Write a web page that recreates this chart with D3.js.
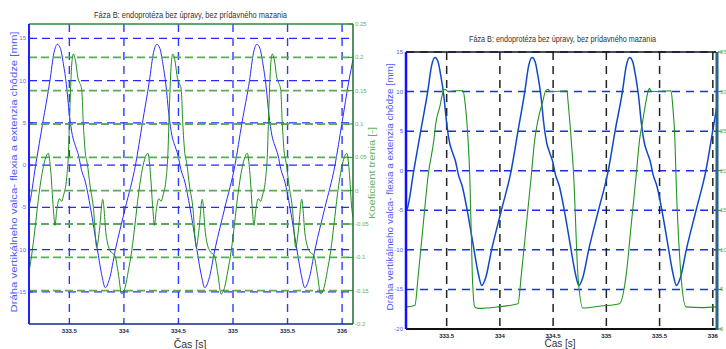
<!DOCTYPE html>
<html>
<head>
<meta charset="utf-8">
<script src="https://cdn.jsdelivr.net/npm/d3@7"></script>
<style>
body { margin: 0; background: #fff; }
svg text { font-family: "Liberation Sans", Arial, sans-serif; }
</style>
</head>
<body>
<svg id="chart" width="726" height="349"></svg>
<script>
// ---- data ----
var titleText = "Fáza B: endoprotéza bez úpravy, bez prídavného mazania";
var xLabelText = "Čas [s]";
var yLabelLeft = "Dráha vertikálneho valca- flexia a extenzia chôdze [mm]";
var yLabelRight = "Koeficient trenia [-]";

var xTicks = [333.5, 334, 334.5, 335, 335.5, 336];
var xTickLabels = ["333.5", "334", "334.5", "335", "335.5", "336"];

var leftTicksA = [15, 10, 5, 0, -5, -10, -15];
var rightTicksA = [0.25, 0.2, 0.15, 0.1, 0.05, 0, -0.05, -0.1, -0.15, -0.2];
var rightTickLabelsA = ["0.25", "0.2", "0.15", "0.1", "0.05", "0", "-0.05", "-0.1", "-0.15", "-0.2"];

var leftTicksB = [15, 10, 5, 0, -5, -10, -15, -20];
var rightTicksB = [35, 30, 25, 20, 15, 10, 5, 0];

// displacement of the cylinder [mm] (blue, both charts)
var tBlue = [333.11, 333.13, 333.191, 333.256, 333.322, 333.359, 333.390, 333.418, 333.445, 333.473, 333.500, 333.528, 333.555, 333.583, 333.610, 333.647, 333.693, 333.757, 333.794, 333.830, 333.867, 333.922, 334.014, 334.106, 334.170,
  334.234, 334.271, 334.302, 334.330, 334.357, 334.385, 334.412, 334.440, 334.467, 334.495, 334.522, 334.559, 334.605, 334.669, 334.706, 334.742, 334.779, 334.834, 334.926, 335.018, 335.082,
  335.151, 335.188, 335.219, 335.247, 335.274, 335.302, 335.329, 335.357, 335.384, 335.412, 335.439, 335.476, 335.522, 335.586, 335.623, 335.659, 335.696, 335.751, 335.843, 335.935, 335.999, 336.063, 336.10];
var blueVal = [-5.3, -4.8, 0, 5, 10, 13.3, 14.3, 13.8, 12.0, 9.5, 6.0, 3.5, 2.3, 1.2, -0.5, -2.0, -5.0, -10.0, -12.8, -14.5, -13.5, -10.0, -5.0, 0, 5,
  10, 13.3, 14.3, 13.8, 12.0, 9.5, 6.0, 3.5, 2.3, 1.2, -0.5, -2.0, -5.0, -10.0, -12.8, -14.5, -13.5, -10.0, -5.0, 0, 5,
  10, 13.3, 14.3, 13.8, 12.0, 9.5, 6.0, 3.5, 2.3, 1.2, -0.5, -2.0, -5.0, -10.0, -12.8, -14.5, -13.5, -10.0, -5.0, 0, 5, 10, 12.5];

// friction coefficient [-] (green, left chart)
var tFric = [333.13, 333.160, 333.190, 333.221, 333.267, 333.307, 333.329, 333.353, 333.368, 333.384, 333.408, 333.430, 333.445, 333.476, 333.490, 333.506, 333.522, 333.536, 333.561, 333.577, 333.591, 333.613, 333.628, 333.644, 333.665, 333.690, 333.720, 333.751, 333.775, 333.806, 333.836, 333.873, 333.919, 333.949, 333.980, 334.011, 334.041, 334.072, 334.102, 334.133, 334.179,
  334.219, 334.241, 334.265, 334.280, 334.296, 334.320, 334.342, 334.357, 334.388, 334.402, 334.418, 334.434, 334.448, 334.473, 334.489, 334.503, 334.525, 334.540, 334.556, 334.577, 334.602, 334.632, 334.663, 334.687, 334.718, 334.748, 334.785, 334.831, 334.861, 334.892, 334.923, 334.953, 334.984, 335.014, 335.045, 335.091,
  335.131, 335.153, 335.177, 335.192, 335.208, 335.232, 335.254, 335.269, 335.300, 335.314, 335.330, 335.346, 335.360, 335.385, 335.401, 335.415, 335.437, 335.452, 335.468, 335.489, 335.514, 335.544, 335.575, 335.599, 335.630, 335.660, 335.697, 335.743, 335.773, 335.804, 335.835, 335.865, 335.896, 335.926, 335.957, 336.003,
  336.043, 336.065, 336.089, 336.10];
var fricVal = [-0.122, -0.09, -0.05, -0.006, 0.04, 0.056, 0.03, -0.027, -0.052, -0.03, -0.012, -0.016, -0.008, 0.02, 0.05, 0.13, 0.19, 0.205, 0.19, 0.17, 0.163, 0.152, 0.1, 0.06, 0.04, 0.007, -0.025, -0.085, -0.06, -0.013, -0.065, -0.09, -0.098, -0.125, -0.155, -0.145, -0.12, -0.09, -0.05, -0.006, 0.04,
  0.056, 0.03, -0.027, -0.052, -0.03, -0.012, -0.016, -0.008, 0.02, 0.05, 0.13, 0.19, 0.205, 0.19, 0.17, 0.163, 0.152, 0.1, 0.06, 0.04, 0.007, -0.025, -0.085, -0.06, -0.013, -0.065, -0.09, -0.098, -0.125, -0.155, -0.145, -0.12, -0.09, -0.05, -0.006, 0.04,
  0.056, 0.03, -0.027, -0.052, -0.03, -0.012, -0.016, -0.008, 0.02, 0.05, 0.13, 0.19, 0.205, 0.19, 0.17, 0.163, 0.152, 0.1, 0.06, 0.04, 0.007, -0.025, -0.085, -0.06, -0.013, -0.065, -0.09, -0.098, -0.125, -0.155, -0.145, -0.12, -0.09, -0.05, -0.006, 0.04,
  0.056, 0.03, -0.027, -0.04];

// second quantity (green, right chart, right axis 0..35)
var tForce = [333.11, 333.123, 333.202, 333.233, 333.279, 333.326, 333.380, 333.398, 333.436, 333.467, 333.483, 333.514, 333.580, 333.654, 333.670, 333.701, 333.717, 333.741, 333.764, 333.795, 333.980, 334.170,
  334.201, 334.248, 334.295, 334.327, 334.358, 334.405, 334.430, 334.452, 334.470, 334.630, 334.639, 334.670, 334.693, 334.733, 334.780, 334.950, 335.124,
  335.186, 335.233, 335.280, 335.312, 335.343, 335.374, 335.396, 335.405, 335.425, 335.608, 335.624, 335.644, 335.654, 335.701, 335.748, 335.900, 336.03];
var forceVal = [2.8, 2.8, 3.0, 6.8, 13.1, 19.4, 23.9, 26.0, 28.1, 30.0, 30.3, 30.0, 30.1, 30.1, 28.9, 23.9, 19.4, 6.8, 2.8, 2.6, 2.8, 3.2,
  6.8, 13.1, 19.4, 23.9, 26.4, 28.9, 30.1, 30.3, 30.0, 30.1, 28.9, 23.9, 19.4, 6.8, 2.65, 2.9, 3.2,
  6.8, 13.1, 19.4, 23.9, 26.4, 28.9, 30.2, 30.4, 30.0, 30.1, 28.1, 23.9, 19.4, 6.8, 2.8, 2.7, 2.8];

// ---- drawing ----
var svg = d3.select("#chart");

var blueCol = "#2a2aff";
var greenCol = "#1f8f1f";
var greenGrid = "#5aab5a";
var greenText = "#5fb35f";

function pairs(t, v) {
  return t.map(function (d, i) { return [d, v[i]]; });
}

function hLines(g, scale, ticks, box, color, dash, w) {
  g.selectAll(null).data(ticks).enter().append("line")
    .attr("x1", box.x0).attr("x2", box.x1)
    .attr("y1", function (d) { return scale(d); })
    .attr("y2", function (d) { return scale(d); })
    .attr("stroke", color).attr("stroke-width", w)
    .attr("stroke-dasharray", dash);
}

function vLines(g, scale, ticks, box, color, dash, w) {
  g.selectAll(null).data(ticks).enter().append("line")
    .attr("y1", box.y0).attr("y2", box.y1)
    .attr("x1", function (d) { return scale(d); })
    .attr("x2", function (d) { return scale(d); })
    .attr("stroke", color).attr("stroke-width", w)
    .attr("stroke-dasharray", dash);
}

function curve(g, x, y, data, color, w, clipId) {
  var line = d3.line()
    .x(function (d) { return x(d[0]); })
    .y(function (d) { return y(d[1]); })
    .curve(d3.curveMonotoneX);
  g.append("path")
    .attr("d", line(data))
    .attr("fill", "none")
    .attr("stroke", color)
    .attr("stroke-width", w)
    .attr("clip-path", "url(#" + clipId + ")");
}

function clip(id, box) {
  svg.append("clipPath").attr("id", id).append("rect")
    .attr("x", box.x0).attr("y", box.y0)
    .attr("width", box.x1 - box.x0).attr("height", box.y1 - box.y0);
}

function rotLabel(x, y, text, color, len, size) {
  svg.append("text")
    .attr("transform", "translate(" + x + "," + y + ") rotate(-90)")
    .attr("text-anchor", "middle")
    .attr("font-size", size)
    .attr("fill", color)
    .attr("textLength", len)
    .attr("lengthAdjust", "spacingAndGlyphs")
    .text(text);
}

// ===== left chart =====
var boxA = { x0: 29, x1: 353, y0: 24, y1: 324 };
var xA = d3.scaleLinear().domain([333.13, 336.1]).range([boxA.x0, boxA.x1]);
var yA = d3.scaleLinear().domain([-18.8, 16.7]).range([boxA.y1, boxA.y0]);
var y2A = d3.scaleLinear().domain([-0.2, 0.25]).range([boxA.y1, boxA.y0]);
clip("clipA", boxA);

var gA = svg.append("g");
hLines(gA, yA, leftTicksA, boxA, blueCol, "8,5", 1.3);
vLines(gA, xA, xTicks, boxA, "#2a3cff", "8,6", 1.4);
curve(gA, xA, yA, pairs(tBlue, blueVal), blueCol, 1, "clipA");
hLines(gA, y2A, rightTicksA.slice(1, -1), boxA, greenGrid, "8,4", 1.8);
curve(gA, xA, y2A, pairs(tFric, fricVal), greenCol, 1, "clipA");

// frame
gA.append("line").attr("x1", boxA.x0).attr("x2", boxA.x1).attr("y1", boxA.y0).attr("y2", boxA.y0)
  .attr("stroke", "#2b8a3a").attr("stroke-width", 1.5);
gA.append("line").attr("x1", boxA.x0).attr("x2", boxA.x1).attr("y1", boxA.y1).attr("y2", boxA.y1)
  .attr("stroke", "#14288a").attr("stroke-width", 1.5);
gA.append("line").attr("x1", boxA.x0).attr("x2", boxA.x0).attr("y1", boxA.y0).attr("y2", boxA.y1)
  .attr("stroke", "#1f1fff").attr("stroke-width", 2);
gA.append("line").attr("x1", boxA.x1).attr("x2", boxA.x1).attr("y1", boxA.y0).attr("y2", boxA.y1)
  .attr("stroke", "#1d6b33").attr("stroke-width", 1.5);

// ticks and labels
gA.selectAll(null).data(leftTicksA).enter().append("line")
  .attr("x1", boxA.x0).attr("x2", boxA.x0 + 4)
  .attr("y1", function (d) { return yA(d); }).attr("y2", function (d) { return yA(d); })
  .attr("stroke", blueCol);
gA.selectAll(null).data(leftTicksA).enter().append("text")
  .attr("x", boxA.x0 - 3).attr("y", function (d) { return yA(d) + 2; })
  .attr("text-anchor", "end").attr("font-size", 6).attr("fill", "#5a6aff")
  .text(function (d) { return d; });
gA.selectAll(null).data(rightTicksA).enter().append("line")
  .attr("x1", boxA.x1 - 5).attr("x2", boxA.x1)
  .attr("y1", function (d) { return y2A(d); }).attr("y2", function (d) { return y2A(d); })
  .attr("stroke", greenCol);
gA.selectAll(null).data(rightTicksA).enter().append("text")
  .attr("x", boxA.x1 + 2).attr("y", function (d) { return y2A(d) + 2; })
  .attr("font-size", 6).attr("fill", greenText)
  .text(function (d, i) { return rightTickLabelsA[i]; });
gA.selectAll(null).data(xTicks).enter().append("text")
  .attr("x", function (d) { return xA(d); }).attr("y", boxA.y1 + 9)
  .attr("text-anchor", "middle").attr("font-size", 6).attr("font-weight", "bold").attr("fill", "#1a1f4a")
  .text(function (d, i) { return xTickLabels[i]; });

svg.append("text").attr("x", 190.5).attr("y", 18).attr("text-anchor", "middle")
  .attr("font-size", 9.5).attr("fill", "#333")
  .attr("textLength", 193).attr("lengthAdjust", "spacingAndGlyphs").text(titleText);
svg.append("text").attr("x", 190).attr("y", 348).attr("text-anchor", "middle")
  .attr("font-size", 10.5).attr("fill", "#333").text(xLabelText);
rotLabel(17, 172, yLabelLeft, "#4a5aff", 281, 9);
rotLabel(375, 173, yLabelRight, greenText, 92, 9);

// ===== right chart =====
var boxB = { x0: 406, x1: 716, y0: 52, y1: 329 };
var xB = d3.scaleLinear().domain([333.118, 336.03]).range([boxB.x0, boxB.x1]);
var yB = d3.scaleLinear().domain([-20, 15]).range([boxB.y1, boxB.y0]);
var y2B = d3.scaleLinear().domain([0, 35]).range([boxB.y1, boxB.y0]);
clip("clipB", boxB);

var gB = svg.append("g");
hLines(gB, yB, leftTicksB, boxB, "#1a2fe8", "8,6", 1.5);
vLines(gB, xB, xTicks, boxB, "#222", "8,6", 1.5);
curve(gB, xB, yB, pairs(tBlue, blueVal), "#1048c8", 1.5, "clipB");
curve(gB, xB, y2B, pairs(tForce, forceVal), "#239323", 1.1, "clipB");

gB.append("line").attr("x1", boxB.x0).attr("x2", boxB.x1).attr("y1", boxB.y0).attr("y2", boxB.y0)
  .attr("stroke", "#111").attr("stroke-width", 1.5);
gB.append("line").attr("x1", boxB.x0).attr("x2", boxB.x1).attr("y1", boxB.y1).attr("y2", boxB.y1)
  .attr("stroke", "#111").attr("stroke-width", 2);
gB.append("line").attr("x1", boxB.x0).attr("x2", boxB.x0).attr("y1", boxB.y0).attr("y2", boxB.y1)
  .attr("stroke", "#1010ff").attr("stroke-width", 2.5);
gB.append("line").attr("x1", boxB.x1 + 1).attr("x2", boxB.x1 + 1).attr("y1", boxB.y0).attr("y2", boxB.y1 + 1)
  .attr("stroke", "#2a6585").attr("stroke-width", 3);

gB.selectAll(null).data(leftTicksB).enter().append("text")
  .attr("x", boxB.x0 - 3).attr("y", function (d) { return yB(d) + 2; })
  .attr("text-anchor", "end").attr("font-size", 6).attr("fill", "#4a5aff")
  .text(function (d) { return d; });
gB.selectAll(null).data(rightTicksB).enter().append("line")
  .attr("x1", boxB.x1 + 2).attr("x2", boxB.x1 + 6)
  .attr("y1", function (d) { return y2B(d); }).attr("y2", function (d) { return y2B(d); })
  .attr("stroke", greenCol);
gB.selectAll(null).data(rightTicksB).enter().append("text")
  .attr("x", boxB.x1 + 4).attr("y", function (d) { return y2B(d) + 2; })
  .attr("font-size", 6).attr("fill", greenText)
  .text(function (d) { return d; });
gB.selectAll(null).data(xTicks).enter().append("text")
  .attr("x", function (d) { return xB(d); }).attr("y", boxB.y1 + 9)
  .attr("text-anchor", "middle").attr("font-size", 6).attr("font-weight", "bold").attr("fill", "#1a1a2a")
  .text(function (d, i) { return xTickLabels[i]; });

svg.append("text").attr("x", 562.5).attr("y", 42).attr("text-anchor", "middle")
  .attr("font-size", 9.5).attr("fill", "#333")
  .attr("textLength", 187).attr("lengthAdjust", "spacingAndGlyphs").text(titleText);
svg.append("text").attr("x", 560).attr("y", 347).attr("text-anchor", "middle")
  .attr("font-size", 10).attr("fill", "#333").text(xLabelText);
rotLabel(393, 187, yLabelLeft, "#4a5aff", 247, 9);
</script>
</body>
</html>
